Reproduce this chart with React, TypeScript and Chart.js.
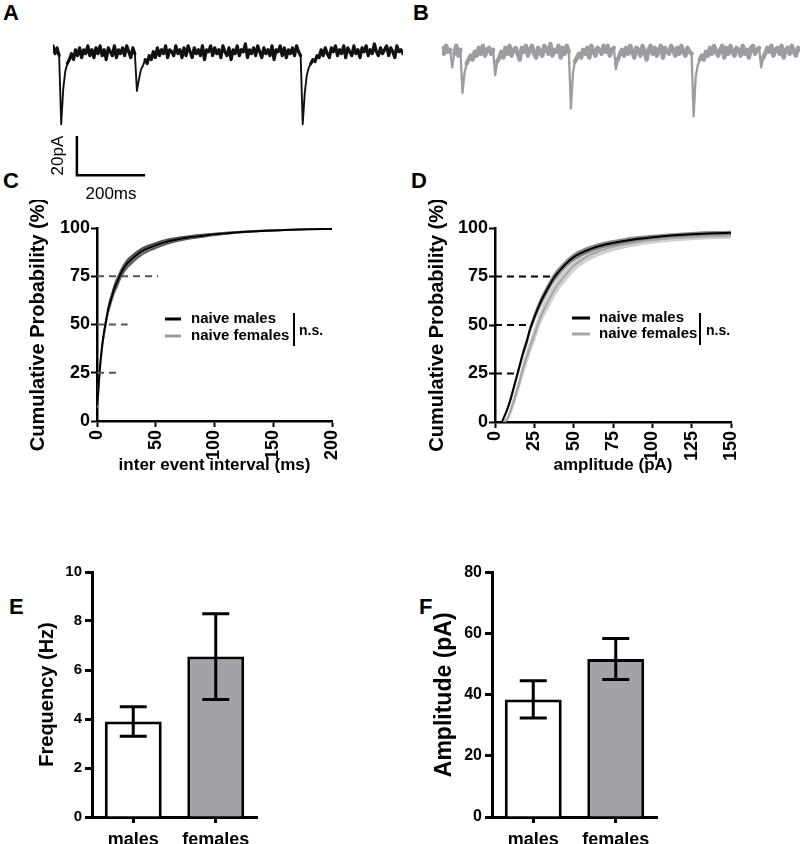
import React, { useEffect, useRef } from 'react';
import { Chart, registerables } from 'chart.js';

Chart.register(...registerables);

const SANS = "'Liberation Sans', Arial, Helvetica, sans-serif";
Chart.defaults.font.family = SANS;
Chart.defaults.color = '#000';

// ---------- A / B : example traces (pA relative to baseline, 6 ms sampling) ----------
const traceStepMs = 6;
const traceA: number[] = [
  2, -2, 1, -3, -38, -20, -11, -7, -5, -2, -5, 0, -3, 1, -4, 0, -2, 2, -3, 0,
  -4, 1, -2, 2, -3, 0, -5, 1, -1, -3, 2, -4, 0, -2, 1, -3, 2, -1, -4, 1,
  -2, -21, -15, -10, -8, -5, -7, -3, -5, -1, -4, 1, -3, 0, -2, 2, -4, 0, -1, -3,
  2, -2, 0, -4, 1, -3, 2, -1, -4, 1, -2, 0, -3, 2, -5, 0, -1, 2, -3, 1,
  -2, 0, -4, 2, -1, -3, 1, -5, 0, -2, 2, -3, 0, -1, 3, -4, 0, -2, 1, -3,
  2, -1, -4, 1, -2, 0, -3, 2, -5, 0, -1, 2, -3, 1, -4, 0, -2, 1, -3, 2,
  -1, -3, -38, -22, -13, -9, -7, -5, -6, -3, -4, 0, -3, 1, -2, -4, 1, -1, 2, -3,
  0, -2, 2, -4, 1, -1, -3, 2, -2, 0, -4, 1, -1, 2, -3, 0, -2, 3, -1, -3,
  1, -2, 0, 2, -3, 1, -1, -4, 2, -1, 0, -2,
];
const traceB: number[] = [
  1, -2, 2, -1, 0, -9, -2, 2, -3, 0, -22, -12, -7, -5, -3, -5, -1, -3, 1, -2,
  2, -3, 0, 1, -2, 0, -13, -6, -4, -1, -4, 1, -2, 2, -3, 0, 1, -2, -5, 1,
  -1, 2, -3, 0, 2, -2, -4, 1, -1, -3, 2, 0, -2, 3, -3, 0, -1, 2, -4, 1,
  -2, 2, -1, -30, -12, -6, -4, -2, -4, 0, -2, 1, -4, 2, -1, -3, 1, 0, -2, 2,
  -1, 2, -3, 0, 1, -10, -5, -2, 0, -3, 1, -2, 2, -1, -4, 1, 0, -3, 2, -1,
  -5, 0, 2, -2, 1, -3, 0, 2, -4, 1, -1, -2, 2, 0, -3, 1, -2, 2, -1, -3,
  1, -1, -2, -34, -14, -8, -5, -3, -5, -1, -3, 1, -2, 2, -1, -3, 0, 2, -4, 1,
  -2, 2, -1, -3, 1, 0, -3, 2, -2, 0, -4, 1, 2, -2, 0, 1, -9, -4, -2, 1,
  -1, 2, -3, 0, 1, -2, 2, -4, 0, 1, -2, 2, -1, -3, 1, 0,
];
const scaleBarMs = [70, 70, 270];
const scaleBarPA = [-44, -64, -64];

// ---------- C : cumulative inter-event interval ----------
const seriesNames = ['naive males', 'naive females'];
const cIntervalMs = [0, 1, 2, 3, 4, 5, 6, 8, 10, 12, 15, 18, 20, 25, 30, 35, 40, 50, 60, 70, 80, 90, 100, 120, 140, 160, 180, 200];
const cMalesPct = [8, 15, 24, 31, 37, 42, 46, 53, 59, 63, 69, 73, 76, 81, 84, 86.5, 88.5, 91, 93, 94.3, 95.3, 96, 96.7, 97.8, 98.5, 99, 99.3, 99.5];
const cFemalesPct = [7, 14, 23, 30, 36, 41, 45, 52, 58, 62.5, 68.5, 72.5, 75.5, 80.5, 83.5, 86, 88, 90.7, 92.8, 94.2, 95.2, 96, 96.7, 97.8, 98.5, 99, 99.3, 99.5];
const cMalesSem = [2, 2.5, 3, 3, 3, 3, 3, 3, 3, 3, 3, 3, 2.8, 2.6, 2.4, 2.2, 2, 1.8, 1.5, 1.3, 1.1, 1, 0.9, 0.7, 0.6, 0.5, 0.4, 0.4];
const cFemalesSem = [2, 2.5, 3, 3, 3, 3, 3, 3, 3, 3, 3, 3, 2.8, 2.6, 2.4, 2.2, 2, 1.8, 1.5, 1.3, 1.1, 1, 0.9, 0.7, 0.6, 0.5, 0.4, 0.4];
const guideLevels = [25, 50, 75];
const cGuideEndsMs = [17, 26, 52];

// ---------- D : cumulative amplitude ----------
const dAmplitudePA = [0, 2, 4, 6, 8, 10, 12, 15, 18, 20, 22, 25, 28, 30, 35, 38, 40, 45, 50, 60, 70, 80, 90, 100, 110, 125, 140, 150];
const dMalesPct = [0, 0, 0, 3, 7, 12, 18, 27, 36, 41, 47, 54, 60, 63.5, 71, 75, 77, 81.5, 85, 89, 91.5, 93, 94.3, 95.2, 96, 96.8, 97.3, 97.5];
const dFemalesPct = [0, 0, 0, 0.5, 2, 6, 11, 19, 28, 33, 38, 45, 52, 56, 64, 68.5, 71, 76, 80.5, 86, 89.2, 91.2, 92.7, 93.8, 94.6, 95.4, 95.9, 96.1];
const dMalesSem = [0, 0, 0.5, 1, 1.5, 2, 2, 2.2, 2.4, 2.5, 2.5, 2.5, 2.5, 2.5, 2.4, 2.3, 2.2, 2, 1.9, 1.7, 1.6, 1.5, 1.4, 1.3, 1.2, 1.2, 1.1, 1.1];
const dFemalesSem = [0, 0, 0, 0.5, 1.5, 2.5, 3, 3.5, 4, 4, 4, 4, 4, 4, 4, 3.8, 3.7, 3.5, 3.2, 2.8, 2.5, 2.2, 2, 1.9, 1.8, 1.7, 1.6, 1.6];
const dGuideEndsPA = [12, 20.5, 38];

// ---------- E / F : bar charts ----------
const groups = ['males', 'females'];
const freqMeanHz = [3.9, 6.55];
const freqSemHz = [0.6, 1.75];
const ampMeanPA = [38.5, 51.7];
const ampSemPA = [6.1, 6.7];

// ---------------------------------------------------------------------------------

const scaleBarText = {
  id: 'scaleBarText',
  afterDatasetsDraw(chart: any) {
    const { ctx } = chart;
    const x = chart.scales.x;
    const y = chart.scales.y;
    const xb = x.getPixelForValue(scaleBarMs[0]);
    const yTop = y.getPixelForValue(scaleBarPA[0]);
    const yBot = y.getPixelForValue(scaleBarPA[1]);
    ctx.save();
    ctx.fillStyle = '#000';
    ctx.font = `17px ${SANS}`;
    ctx.textAlign = 'center';
    ctx.textBaseline = 'middle';
    ctx.translate(xb - 19, (yTop + yBot) / 2);
    ctx.rotate(-Math.PI / 2);
    ctx.fillText(`${scaleBarPA[0] - scaleBarPA[1]}pA`, 0, 0);
    ctx.restore();
    ctx.save();
    ctx.fillStyle = '#000';
    ctx.font = `17px ${SANS}`;
    ctx.textAlign = 'center';
    ctx.textBaseline = 'middle';
    const xm = (x.getPixelForValue(scaleBarMs[1]) + x.getPixelForValue(scaleBarMs[2])) / 2;
    ctx.fillText(`${scaleBarMs[2] - scaleBarMs[1]}ms`, xm, yBot + 19);
    ctx.restore();
  },
};

function traceConfig(values: number[], color: string, baseWidth: number, eventWidth: number, padL: number, padR: number, withBar: boolean) {
  const datasets: any[] = [
    {
      data: values.map((v, i) => ({ x: i * traceStepMs, y: v })),
      borderColor: color,
      borderWidth: baseWidth,
      pointRadius: 0,
      tension: 0,
      borderJoinStyle: 'round',
      borderCapStyle: 'round',
      segment: {
        borderWidth: (c: any) => (c.p0.parsed.y < -7 || c.p1.parsed.y < -7 ? eventWidth : baseWidth),
      },
    },
  ];
  if (withBar) {
    datasets.push({
      data: scaleBarMs.map((t, i) => ({ x: t, y: scaleBarPA[i] })),
      borderColor: '#000',
      borderWidth: 2.5,
      pointRadius: 0,
      tension: 0,
    });
  }
  return {
    type: 'line',
    data: { datasets },
    options: {
      animation: false,
      responsive: false,
      events: [],
      layout: { padding: { left: padL, right: padR, top: 8, bottom: 18 } },
      plugins: { legend: { display: false }, tooltip: { enabled: false } },
      scales: {
        x: { type: 'linear', display: false, min: 0, max: (values.length - 1) * traceStepMs },
        y: { display: false, min: -70, max: 6 },
      },
    },
    plugins: withBar ? [scaleBarText] : [],
  };
}

type LegendPos = {
  lineX: number; lineW: number; rows: number[]; textX: number;
  barX: number; barTop: number; barBottom: number; nsX: number; nsY: number;
};

function nsLegend(p: LegendPos) {
  return {
    id: 'nsLegend',
    afterDatasetsDraw(chart: any) {
      const ctx = chart.ctx;
      ctx.save();
      seriesNames.forEach((name, i) => {
        const ds = chart.data.datasets.find((d: any) => d.label === name);
        if (!ds) return;
        ctx.strokeStyle = ds.borderColor;
        ctx.lineWidth = 3;
        ctx.beginPath();
        ctx.moveTo(p.lineX, p.rows[i]);
        ctx.lineTo(p.lineX + p.lineW, p.rows[i]);
        ctx.stroke();
        ctx.fillStyle = '#000';
        ctx.font = `bold 15px ${SANS}`;
        ctx.textAlign = 'left';
        ctx.textBaseline = 'middle';
        ctx.fillText(name, p.textX, p.rows[i]);
      });
      ctx.strokeStyle = '#000';
      ctx.lineWidth = 2;
      ctx.beginPath();
      ctx.moveTo(p.barX, p.barTop);
      ctx.lineTo(p.barX, p.barBottom);
      ctx.stroke();
      ctx.font = `bold 14px ${SANS}`;
      ctx.fillText('n.s.', p.nsX, p.nsY);
      ctx.restore();
    },
  };
}

function cumulativeConfig(o: {
  xs: number[]; males: number[]; females: number[]; malesSem: number[]; femalesSem: number[];
  xMax: number; xStep: number; guideEnds: number[]; guideColor: string;
  maleBand: string; femaleBand: string; femaleLine: string; xTitle: string;
  yAxisWidth: number; xAxisHeight: number; padRight: number; yTitlePad: number; legend: LegendPos;
}) {
  const pts = (ys: number[]) => o.xs.map((x, i) => ({ x, y: ys[i] }));
  const up = (m: number[], s: number[]) => o.xs.map((x, i) => ({ x, y: Math.min(100, m[i] + s[i]) }));
  const lo = (m: number[], s: number[]) => o.xs.map((x, i) => ({ x, y: Math.max(0, m[i] - s[i]) }));
  const band = { borderWidth: 0, pointRadius: 0, cubicInterpolationMode: 'monotone' };
  const datasets: any[] = [
    { ...band, label: 'fu', data: up(o.females, o.femalesSem), fill: '+1', backgroundColor: o.femaleBand, order: 7 },
    { ...band, label: 'fl', data: lo(o.females, o.femalesSem), fill: false, order: 7 },
    { ...band, label: 'mu', data: up(o.males, o.malesSem), fill: '+1', backgroundColor: o.maleBand, order: 5 },
    { ...band, label: 'ml', data: lo(o.males, o.malesSem), fill: false, order: 5 },
    { label: seriesNames[1], data: pts(o.females), borderColor: o.femaleLine, borderWidth: 2, pointRadius: 0, fill: false, order: 3, cubicInterpolationMode: 'monotone' },
    { label: seriesNames[0], data: pts(o.males), borderColor: '#000', borderWidth: 2, pointRadius: 0, fill: false, order: 2, cubicInterpolationMode: 'monotone' },
    ...guideLevels.map((lvl, i) => ({
      label: 'g' + lvl,
      data: [{ x: 0, y: lvl }, { x: o.guideEnds[i], y: lvl }],
      borderColor: o.guideColor, borderWidth: 2, borderDash: [7, 5], pointRadius: 0, fill: false, order: 1,
    })),
  ];
  const tickFont = { size: 18, weight: 'bold' };
  const grid = { drawOnChartArea: false, drawTicks: true, tickLength: 6, tickWidth: 2, tickColor: '#000' };
  const border = { display: true, color: '#000', width: 2.5 };
  return {
    type: 'line',
    data: { datasets },
    options: {
      animation: false,
      responsive: false,
      events: [],
      layout: { padding: { left: 0, right: o.padRight, top: 28, bottom: 0 } },
      plugins: { legend: { display: false }, tooltip: { enabled: false } },
      scales: {
        x: {
          type: 'linear', min: 0, max: o.xMax,
          ticks: { stepSize: o.xStep, minRotation: 90, maxRotation: 90, autoSkip: false, font: tickFont, color: '#000', padding: 3 },
          grid, border,
          title: { display: true, text: o.xTitle, color: '#000', font: { size: 17, weight: 'bold' }, padding: { top: 0, bottom: 4 } },
          afterFit: (s: any) => { s.height = o.xAxisHeight; },
        },
        y: {
          min: 0, max: 100,
          ticks: { stepSize: 25, font: tickFont, color: '#000', padding: 1 },
          grid, border,
          title: { display: true, text: 'Cumulative Probability (%)', color: '#000', font: { size: 20, weight: 'bold' }, padding: { top: o.yTitlePad, bottom: 0 } },
          afterFit: (s: any) => { s.width = o.yAxisWidth; },
        },
      },
    },
    plugins: [nsLegend(o.legend)],
  };
}

function errorBars(sems: number[]) {
  return {
    id: 'errorBars',
    afterDatasetsDraw(chart: any) {
      const meta = chart.getDatasetMeta(0);
      const y = chart.scales.y;
      const ctx = chart.ctx;
      const vals = chart.data.datasets[0].data;
      ctx.save();
      ctx.strokeStyle = '#000';
      ctx.lineWidth = 3;
      meta.data.forEach((bar: any, i: number) => {
        const top = y.getPixelForValue(vals[i] + sems[i]);
        const bot = y.getPixelForValue(vals[i] - sems[i]);
        ctx.beginPath();
        ctx.moveTo(bar.x, top);
        ctx.lineTo(bar.x, bot);
        ctx.moveTo(bar.x - 13.5, top);
        ctx.lineTo(bar.x + 13.5, top);
        ctx.moveTo(bar.x - 13.5, bot);
        ctx.lineTo(bar.x + 13.5, bot);
        ctx.stroke();
      });
      ctx.restore();
    },
  };
}

function barConfig(o: { means: number[]; sems: number[]; yMax: number; yStep: number; yTitle: string; yTitleSize: number; tickSize: number; padLeft: number; yAxisWidth: number }) {
  return {
    type: 'bar',
    data: {
      labels: groups,
      datasets: [{
        data: o.means,
        backgroundColor: ['#ffffff', '#a2a2a7'],
        borderColor: '#000',
        borderWidth: 3,
        barPercentage: 0.69,
        categoryPercentage: 1,
        borderSkipped: 'start',
      }],
    },
    options: {
      animation: false,
      responsive: false,
      events: [],
      layout: { padding: { left: o.padLeft, right: 143, top: 10, bottom: 0 } },
      plugins: { legend: { display: false }, tooltip: { enabled: false } },
      scales: {
        x: {
          grid: { offset: false, drawOnChartArea: false, drawTicks: true, tickLength: 6, tickWidth: 3, tickColor: '#000' },
          border: { display: true, color: '#000', width: 3 },
          ticks: { font: { size: 18, weight: 'bold' }, color: '#000', padding: 6 },
          afterFit: (s: any) => { s.height = 27; },
        },
        y: {
          min: 0, max: o.yMax,
          ticks: { stepSize: o.yStep, font: { size: o.tickSize, weight: 'bold' }, color: '#000', padding: 3 },
          grid: { drawOnChartArea: false, drawTicks: true, tickLength: 7, tickWidth: 3, tickColor: '#000' },
          border: { display: true, color: '#000', width: 3 },
          title: { display: true, text: o.yTitle, color: '#000', font: { size: o.yTitleSize, weight: 'bold' }, padding: { top: 4, bottom: 0 } },
          afterFit: (s: any) => { s.width = o.yAxisWidth; },
        },
      },
    },
    plugins: [errorBars(o.sems)],
  };
}

const makeA = () => traceConfig(traceA, '#111111', 3.2, 1.9, 13, 7, true);
const makeB = () => traceConfig(traceB, '#9c9ca1', 4.4, 2.3, 12, 0, false);
const makeC = () => cumulativeConfig({
  xs: cIntervalMs, males: cMalesPct, females: cFemalesPct, malesSem: cMalesSem, femalesSem: cFemalesSem,
  xMax: 200, xStep: 50, guideEnds: cGuideEndsMs, guideColor: '#555555',
  maleBand: 'rgba(70,70,70,0.9)', femaleBand: 'rgba(150,150,150,0.6)', femaleLine: '#9a9a9a',
  xTitle: 'inter event interval (ms)', yAxisWidth: 77, xAxisHeight: 59, padRight: 68, yTitlePad: 6,
  legend: { lineX: 145, lineW: 16, rows: [119, 136], textX: 171, barX: 274, barTop: 113, barBottom: 146, nsX: 279, nsY: 131 },
});
const makeD = () => cumulativeConfig({
  xs: dAmplitudePA, males: dMalesPct, females: dFemalesPct, malesSem: dMalesSem, femalesSem: dFemalesSem,
  xMax: 150, xStep: 25, guideEnds: dGuideEndsPA, guideColor: '#000000',
  maleBand: 'rgba(95,95,95,0.75)', femaleBand: 'rgba(200,200,200,0.85)', femaleLine: '#a5a5a5',
  xTitle: 'amplitude (pA)', yAxisWidth: 75, xAxisHeight: 58, padRight: 69, yTitlePad: 5,
  legend: { lineX: 152, lineW: 18, rows: [118, 134], textX: 179, barX: 280, barTop: 113, barBottom: 145, nsX: 286, nsY: 131 },
});
const makeE = () => barConfig({ means: freqMeanHz, sems: freqSemHz, yMax: 10, yStep: 2, yTitle: 'Frequency (Hz)', yTitleSize: 20, tickSize: 15, padLeft: 31, yAxisWidth: 61 });
const makeF = () => barConfig({ means: ampMeanPA, sems: ampSemPA, yMax: 80, yStep: 20, yTitle: 'Amplitude (pA)', yTitleSize: 23, tickSize: 16, padLeft: 27, yAxisWidth: 65 });

function ChartCanvas({ x, y, w, h, make }: { x: number; y: number; w: number; h: number; make: () => any }) {
  const ref = useRef<HTMLCanvasElement>(null);
  useEffect(() => {
    const chart = new Chart(ref.current as HTMLCanvasElement, make());
    return () => chart.destroy();
  }, [make]);
  return <canvas ref={ref} width={w} height={h} style={{ position: 'absolute', left: x, top: y, width: w, height: h }} />;
}

const letterStyle = (left: number, top: number): React.CSSProperties => ({
  position: 'absolute', left, top, fontSize: 22, fontWeight: 'bold', lineHeight: '22px', fontFamily: SANS, color: '#000',
});

export default function App() {
  return (
    <div style={{ position: 'absolute', left: 0, top: 0, width: 800, height: 844, overflow: 'hidden', background: '#fff' }}>
      <div style={letterStyle(3, 2)}>A</div>
      <div style={letterStyle(413, 2)}>B</div>
      <div style={letterStyle(3, 170)}>C</div>
      <div style={letterStyle(411, 170)}>D</div>
      <div style={letterStyle(9, 596)}>E</div>
      <div style={letterStyle(419, 596)}>F</div>
      <ChartCanvas x={40} y={30} w={370} h={175} make={makeA} />
      <ChartCanvas x={430} y={30} w={370} h={175} make={makeB} />
      <ChartCanvas x={20} y={200} w={380} h={280} make={makeC} />
      <ChartCanvas x={420} y={200} w={380} h={280} make={makeD} />
      <ChartCanvas x={0} y={560} w={400} h={284} make={makeE} />
      <ChartCanvas x={400} y={560} w={400} h={284} make={makeF} />
    </div>
  );
}
